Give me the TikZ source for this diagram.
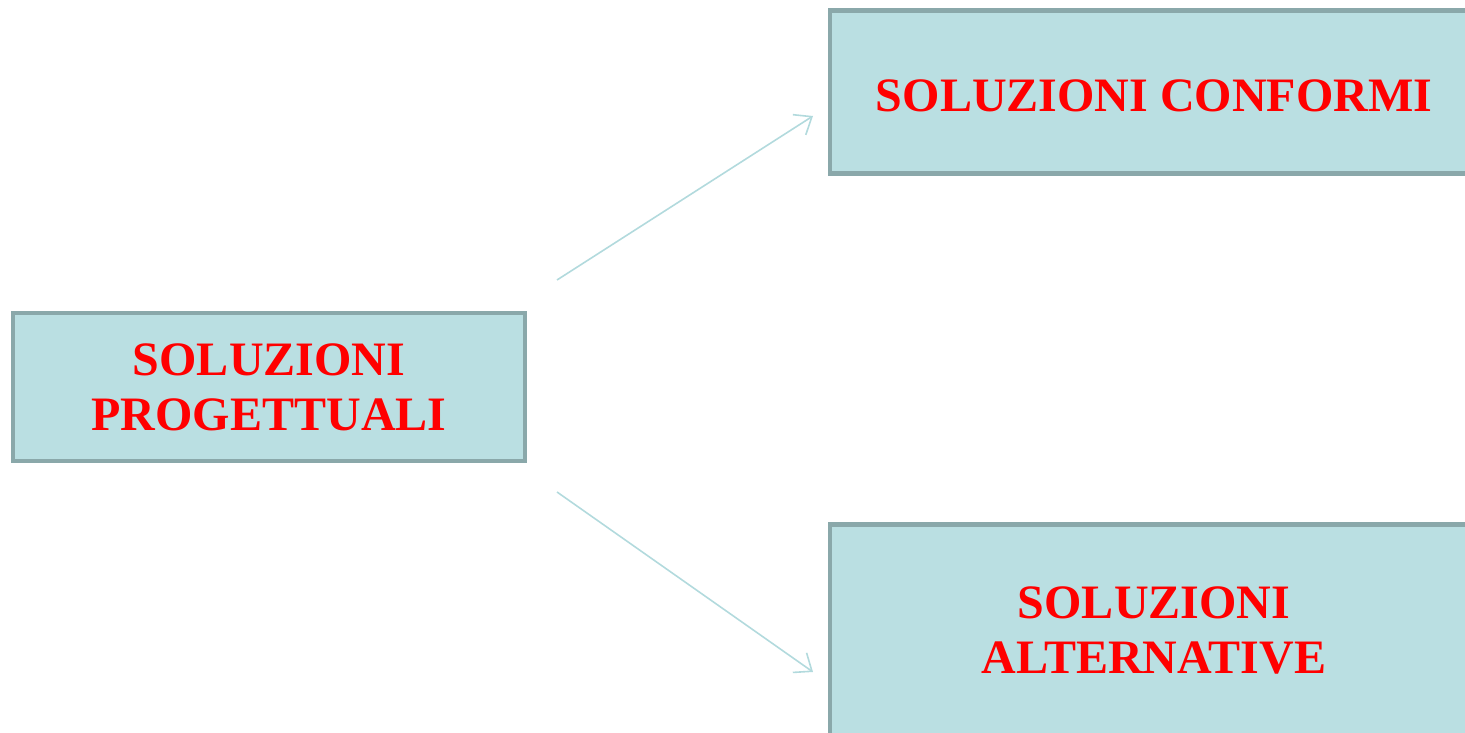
\documentclass[tikz,border=0pt]{standalone}
\usepackage{fontspec}
\setmainfont{Liberation Serif}
\usetikzlibrary{arrows.meta}
\definecolor{boxfill}{HTML}{BADFE2}
\definecolor{boxline}{HTML}{8AA8AA}
\definecolor{arrowblue}{HTML}{B2DADD}
\definecolor{textred}{HTML}{FF0000}
\tikzset{
  solbox/.style={draw=boxline,fill=boxfill,line width=4.5pt,inner sep=0pt,
    align=center,text=textred,font=\fontsize{48}{55}\selectfont\bfseries},
  solarrow/.style={draw=arrowblue,line width=1.6pt,-{Straight Barb[length=15pt,width=24pt]}}
}
\begin{document}
\begin{tikzpicture}[x=1pt,y=1pt]
\useasboundingbox (0,0) rectangle (1465,733);
\node[solbox,minimum width=512pt,minimum height=148pt] (prog) at (269,346) {SOLUZIONI\\PROGETTUALI};
\node[solbox,minimum width=648pt,minimum height=163pt,text height=39pt] (conf) at (1154,641) {SOLUZIONI CONFORMI};
\node[solbox,minimum width=648pt,minimum height=211pt] (alt) at (1154,103) {SOLUZIONI\\ALTERNATIVE};
\coordinate (up0) at (557,453);
\coordinate (up1) at (813,617);
\coordinate (dn0) at (557,241);
\coordinate (dn1) at (813,61);
\draw[solarrow] (up0) -- (up1);
\draw[solarrow] (dn0) -- (dn1);
\end{tikzpicture}
\end{document}
